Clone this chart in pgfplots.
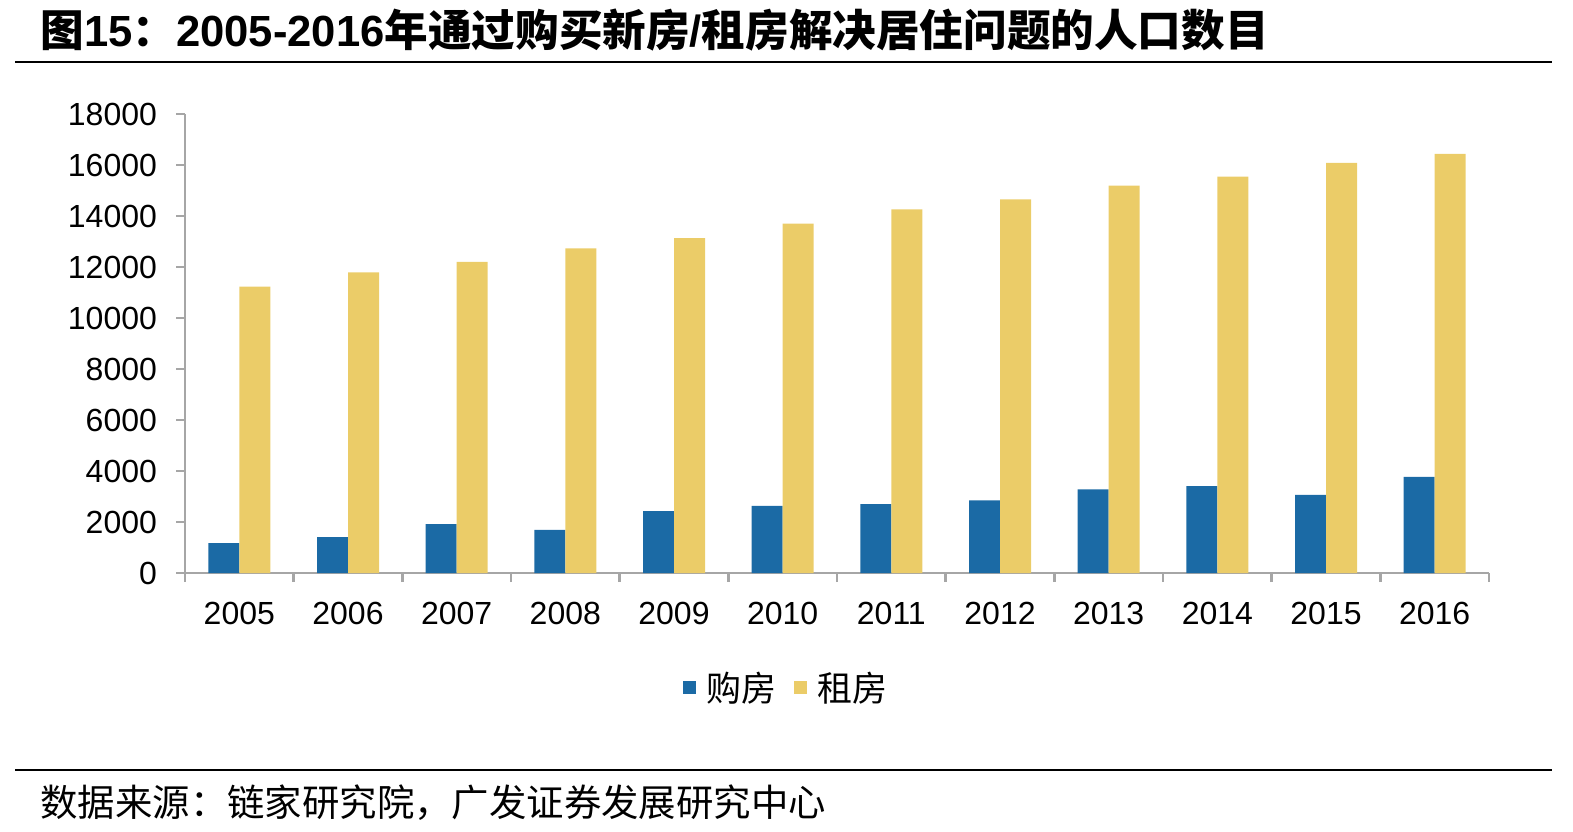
\documentclass[border=0pt]{standalone}
\usepackage{fontspec}
\setmainfont{Liberation Sans}
\newfontfamily\cjk{Noto Sans CJK SC}
\usepackage{pgfplots}
\pgfplotsset{compat=1.18}
\definecolor{cblue}{RGB}{27,106,165}
\definecolor{cyellow}{RGB}{235,204,104}
\definecolor{axgray}{RGB}{166,166,166}
\begin{document}
\begin{tikzpicture}
\useasboundingbox (0,0) rectangle (786.5pt,-415.5pt);
\node[anchor=west, inner sep=0pt] at (20pt,-15pt) {\fontsize{21.8pt}{24pt}\selectfont{\cjk\bfseries 图}\textbf{15}{\cjk\bfseries ：}\textbf{2005-2016}{\cjk\bfseries 年通过购买新房}\textbf{/}{\cjk\bfseries 租房解决居住问题的人口数目}};
\draw[line width=1pt] (7.5pt,-31pt) -- (776pt,-31pt);
\begin{axis}[
  at={(92.5pt,-286.5pt)}, anchor=south west,
  scale only axis, width=652pt, height=229.5pt,
  xmin=-0.5, xmax=11.5, ymin=0, ymax=18000,
  axis x line*=bottom, axis y line*=left,
  axis line style={axgray, line width=1.2pt},
  ybar=0pt, bar width=15.5pt,
  ytick={0,2000,...,18000},
  scaled y ticks=false,
  yticklabel style={/pgf/number format/fixed, /pgf/number format/precision=0, xshift=-6pt},
  xtick={-0.5,0.5,...,11.5}, xticklabels={},
  extra x ticks={0,1,2,3,4,5,6,7,8,9,10,11},
  extra x tick labels={2005,2006,2007,2008,2009,2010,2011,2012,2013,2014,2015,2016},
  extra x tick style={major tick length=0pt, xticklabel style={yshift=-11pt}},
  tick align=outside, major tick length=4.5pt,
  tick style={axgray, line width=1.2pt},
  ticklabel style={font=\fontsize{16pt}{18pt}\selectfont, text=black},
  /pgf/number format/assume math mode=true,
  /pgf/number format/1000 sep={},
  legend columns=2,
  legend style={draw=none, at={(0.462,-0.2505)}, anchor=center,
    font=\cjk\fontsize{17.5pt}{20pt}\selectfont,
    /tikz/every odd column/.append style={column sep=3pt},
    /tikz/every even column/.append style={column sep=7pt}},
  legend image code/.code={\fill (0pt,-3.25pt) rectangle (6.5pt,3.25pt);},
]
\addplot[fill=cblue, draw=none] coordinates {(0,1170) (1,1410) (2,1920) (3,1690) (4,2430) (5,2630) (6,2700) (7,2850) (8,3280) (9,3410) (10,3060) (11,3770)};
\addplot[fill=cyellow, draw=none] coordinates {(0,11230) (1,11790) (2,12200) (3,12730) (4,13130) (5,13700) (6,14260) (7,14650) (8,15190) (9,15540) (10,16080) (11,16440)};
\legend{购房,租房}
\end{axis}
\draw[line width=1pt] (7.5pt,-385pt) -- (776pt,-385pt);
\node[anchor=west, inner sep=0pt] at (20pt,-401.5pt) {\cjk\fontsize{18.7pt}{20pt}\selectfont 数据来源：链家研究院，广发证券发展研究中心};
\end{tikzpicture}
\end{document}
